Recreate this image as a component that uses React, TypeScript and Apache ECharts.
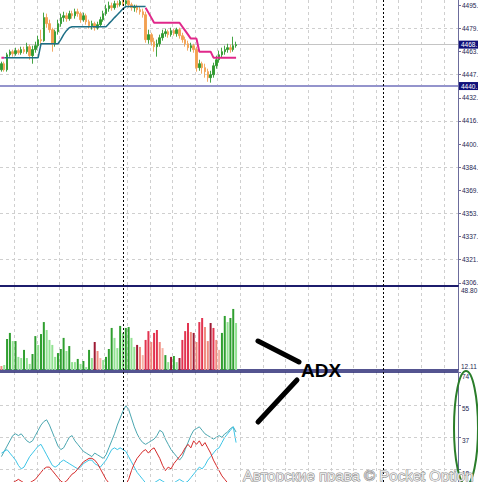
import React, { useEffect, useRef } from 'react';
import * as echarts from 'echarts';

// ---------- time slots (bar positions across the whole window) ----------
const SLOT_COUNT = 162;
const slots: string[] = Array.from({ length: SLOT_COUNT }, (_, i) => String(i));
const separatorSlots = ['43', '135'];

// ---------- price pane ----------
const priceTicks = [4306.0, 4321.75, 4337.5, 4353.25, 4369.0, 4384.75, 4400.5, 4416.25, 4432.0, 4447.75, 4463.5, 4479.25, 4495.0];
const priceGridLevels = [4321.75, 4353.25, 4384.75, 4416.25, 4447.75, 4479.25];
const horizontalLevel = 4440;
const lastPrice = 4468.2;

const opens = [
  4451.1, 4455.2, 4451.1, 4461.3, 4463.4, 4462.0, 4464.1, 4462.7, 4464.8, 4463.4,
  4466.8, 4460.7, 4464.8, 4467.5, 4471.6, 4470.9, 4486.6, 4482.5, 4478.4, 4468.8,
  4477.0, 4482.5, 4486.6, 4487.9, 4485.9, 4489.3, 4487.9, 4490.6, 4489.3, 4485.2,
  4487.9, 4483.8, 4481.1, 4482.5, 4479.7, 4481.8, 4485.2, 4489.3, 4492.7, 4494.7,
  4493.4, 4496.1, 4495.4, 4497.5, 4496.1, 4498.1, 4495.4, 4493.4, 4494.1, 4492.0,
  4490.6, 4488.6, 4471.6, 4475.0, 4470.2, 4466.8, 4468.8, 4472.9, 4475.7, 4477.0,
  4475.0, 4477.7, 4475.7, 4478.4, 4474.3, 4471.6, 4468.8, 4466.1, 4467.5, 4464.8,
  4452.5, 4455.2, 4452.5, 4449.8, 4445.7, 4447.7, 4453.8, 4457.9, 4461.3, 4463.4,
  4464.8, 4466.1, 4464.8, 4467.5,
];
const closes = [
  4455.2, 4451.1, 4461.3, 4463.4, 4462.0, 4464.1, 4462.7, 4464.8, 4463.4, 4466.8,
  4460.7, 4464.8, 4467.5, 4471.6, 4470.9, 4486.6, 4482.5, 4478.4, 4468.8, 4477.0,
  4482.5, 4486.6, 4487.9, 4485.9, 4489.3, 4487.9, 4490.6, 4489.3, 4485.2, 4487.9,
  4483.8, 4481.1, 4482.5, 4479.7, 4481.8, 4485.2, 4489.3, 4492.7, 4494.7, 4493.4,
  4496.1, 4495.4, 4497.5, 4496.1, 4498.1, 4495.4, 4493.4, 4494.1, 4492.0, 4490.6,
  4488.6, 4471.6, 4475.0, 4470.2, 4466.8, 4468.8, 4472.9, 4475.7, 4477.0, 4475.0,
  4477.7, 4475.7, 4478.4, 4474.3, 4471.6, 4468.8, 4466.1, 4467.5, 4464.8, 4452.5,
  4455.2, 4452.5, 4449.8, 4445.7, 4447.7, 4453.8, 4457.9, 4461.3, 4463.4, 4464.8,
  4466.1, 4464.8, 4467.5, 4468.2,
];
const lows = [
  4449.8, 4449.8, 4449.8, 4460.0, 4460.0, 4460.7, 4461.3, 4461.3, 4462.0, 4462.0,
  4457.9, 4455.2, 4462.7, 4466.1, 4468.2, 4470.2, 4479.7, 4476.3, 4463.4, 4466.8,
  4475.0, 4480.4, 4483.8, 4483.8, 4484.5, 4485.9, 4485.9, 4487.2, 4483.1, 4483.8,
  4481.8, 4479.1, 4478.4, 4477.7, 4478.4, 4480.4, 4483.8, 4487.9, 4490.6, 4491.3,
  4492.0, 4493.4, 4494.1, 4494.7, 4494.7, 4493.4, 4491.3, 4490.6, 4490.0, 4488.6,
  4486.6, 4469.5, 4468.8, 4467.5, 4463.4, 4460.0, 4466.8, 4470.9, 4473.6, 4472.9,
  4473.6, 4474.3, 4473.6, 4472.3, 4469.5, 4466.8, 4464.1, 4463.4, 4462.7, 4449.8,
  4450.4, 4448.4, 4445.7, 4442.9, 4442.3, 4445.7, 4451.8, 4455.9, 4459.3, 4461.3,
  4462.7, 4462.7, 4463.4, 4466.1,
];
const highs = [
  4456.6, 4456.6, 4462.7, 4464.8, 4464.8, 4466.1, 4465.4, 4466.8, 4466.8, 4469.5,
  4468.2, 4467.5, 4470.2, 4474.3, 4478.4, 4490.0, 4489.3, 4485.2, 4479.7, 4478.4,
  4485.2, 4489.3, 4490.6, 4490.0, 4491.3, 4491.3, 4492.7, 4492.7, 4490.6, 4490.0,
  4489.3, 4485.2, 4484.5, 4483.8, 4483.8, 4487.2, 4491.3, 4495.4, 4497.5, 4496.8,
  4498.1, 4498.1, 4498.8, 4498.8, 4499.5, 4499.5, 4496.8, 4495.4, 4495.4, 4494.1,
  4492.7, 4490.6, 4478.4, 4476.3, 4472.9, 4471.6, 4475.0, 4478.4, 4479.1, 4478.4,
  4479.7, 4479.1, 4479.7, 4479.7, 4476.3, 4473.6, 4470.9, 4469.5, 4468.8, 4466.8,
  4457.9, 4456.6, 4455.2, 4451.8, 4450.4, 4455.9, 4460.7, 4464.1, 4466.1, 4467.5,
  4468.8, 4468.2, 4473.6, 4470.2,
];

// trailing stop line: support (teal) and resistance (magenta)
const supportLine = [
  null, 4459.3, 4459.3, 4459.3, 4459.3, 4459.3, 4459.3, 4459.3, 4459.3, 4459.3,
  4459.3, 4459.3, 4459.3, 4459.3, 4468.8, 4468.8, 4468.8, 4468.8, 4468.8, 4468.8,
  4468.8, 4471.6, 4475.0, 4477.7, 4479.7, 4480.4, 4480.4, 4480.4, 4480.4, 4480.4,
  4480.4, 4480.4, 4480.4, 4480.4, 4480.4, 4480.4, 4480.4, 4480.4, 4482.5, 4484.5,
  4486.6, 4488.6, 4490.6, 4492.7, 4494.1, 4494.1, 4494.1, 4494.1, 4494.1, 4494.1,
  4494.1, 4494.1, null, null, null, null, null, null, null, null,
  null, null, null, null, null, null, null, null, null, null,
  null, null, null, null, null, null, null, null, null, null,
  null, null, null, null,
];
const resistanceLine = [
  4459.3, 4459.3, null, null, null, null, null, null, null, null,
  null, null, null, null, null, null, null, null, null, null,
  null, null, null, null, null, null, null, null, null, null,
  null, null, null, null, null, null, null, null, null, null,
  null, null, null, null, null, null, null, null, null, null,
  null, 4493.4, 4490.0, 4486.6, 4483.1, 4483.1, 4483.1, 4483.1, 4483.1, 4483.1,
  4483.1, 4483.1, 4483.1, 4483.1, 4480.4, 4477.7, 4475.0, 4472.3, 4472.3, 4472.3,
  4463.4, 4463.4, 4463.4, 4463.4, 4463.4, 4459.3, 4459.3, 4459.3, 4459.3, 4459.3,
  4459.3, 4459.3, 4459.3, 4459.3,
];

// ---------- histogram pane ----------
const histMin = 12.11;
const histMax = 48.8;
const histValues = [
  13.9, 14.3, 25.8, 28.5, 24.9, 24.9, 17.9, 17.4, 21.0, 17.4,
  14.8, 19.2, 27.1, 23.2, 28.0, 33.3, 29.8, 25.4, 23.2, 17.9,
  19.6, 21.4, 26.3, 20.5, 22.7, 15.6, 15.6, 17.0, 14.8, 16.1,
  13.4, 21.0, 17.4, 24.5, 20.5, 17.4, 16.5, 17.9, 21.4, 30.7,
  26.3, 21.8, 31.6, 28.5, 30.7, 31.1, 26.3, 22.3, 23.2, 22.3,
  18.7, 25.4, 29.3, 24.5, 28.5, 29.8, 24.5, 21.8, 18.7, 15.6,
  17.9, 18.3, 15.6, 17.4, 25.4, 29.3, 32.9, 28.9, 28.5, 24.5,
  33.3, 35.1, 31.1, 24.9, 32.9, 30.7, 25.4, 21.0, 28.5, 36.0,
  33.3, 35.1, 39.1, 32.9,
];
const histKinds = [
  'S', 'LG', 'G', 'G', 'LG', 'G', 'LG', 'LG', 'G', 'LG',
  'LG', 'G', 'G', 'LG', 'G', 'G', 'LG', 'LG', 'LG', 'LG',
  'G', 'G', 'G', 'LG', 'G', 'LG', 'LG', 'G', 'LG', 'G',
  'LG', 'G', 'LG', 'DR', 'S', 'LS', 'LG', 'G', 'G', 'G',
  'LG', 'LG', 'G', 'LG', 'G', 'G', 'LG', 'LG', 'DR', 'S',
  'LS', 'R', 'R', 'S', 'R', 'R', 'S', 'LS', 'G', 'LG',
  'DR', 'G', 'LG', 'DR', 'R', 'R', 'R', 'S', 'DR', 'S',
  'R', 'R', 'S', 'S', 'DR', 'R', 'S', 'LS', 'G', 'G',
  'LG', 'G', 'G', 'LG',
];
const histColors: Record<string, string> = {
  G: '#2f9f2f', LG: '#92e292', DR: '#9e1a34', R: '#e2334f', S: '#f08a7e', LS: '#f6b2a6',
};

// ---------- ADX pane ----------
const adxTicks = [18.5, 37, 55.5, 74];
const adxGridLevels = [18.5, 37, 55.5];
const adxMain = [
  26, 29, 32, 35, 38, 39, 38, 39, 37, 35,
  34, 35, 38, 41, 44, 46, 47, 44, 40, 36,
  32, 30, 31, 34, 37, 38, 35, 33, 31, 29,
  28, 27, 26, 28, 27, 26, 25, 27, 31, 35,
  39, 44, 48, 52, 55, 53, 48, 43, 39, 36,
  34, 33, 34, 35, 36, 38, 41, 40, 36, 33,
  30, 28, 26, 24, 26, 30, 34, 38, 41, 42,
  43, 41, 39, 38, 37, 36, 37, 38, 37, 39,
  40, 42, 43, 40,
];
const plusDI = [
  28, 29, 30, 28, 26, 24, 21, 19, 20, 23,
  26, 28, 30, 32, 33, 30, 27, 24, 21, 20,
  21, 23, 24, 23, 22, 21, 20, 19, 20, 22,
  23, 24, 24, 22, 21, 20, 22, 24, 27, 30,
  31, 30, 31, 30, 29, 26, 23, 20, 17, 15,
  13, 11, 10, 10, 11, 12, 13, 12, 11, 10,
  10, 11, 12, 13, 12, 11, 12, 14, 16, 18,
  20, 19, 21, 24, 26, 28, 30, 31, 34, 37,
  39, 41, 43, 34,
];
const minusDI = [
  10, 9, 8, 9, 11, 12, 13, 12, 11, 10,
  11, 12, 13, 15, 17, 19, 20, 20, 18, 16,
  14, 12, 11, 12, 14, 16, 17, 19, 21, 23,
  24, 25, 25, 24, 22, 19, 16, 13, 11, 10,
  9, 9, 8, 9, 10, 13, 18, 22, 25, 27,
  29, 30, 28, 30, 31, 28, 25, 21, 18, 20,
  19, 22, 24, 26, 28, 31, 33, 31, 35, 33,
  35, 32, 34, 31, 28, 24, 21, 18, 15, 13,
  11, 10, 9, 9,
];

const FONT = '"Liberation Sans", Arial, sans-serif';
const AXIS_COLOR = '#6c6c9c';
const LABEL_COLOR = '#1e1e50';
const GRID_LINE = { color: '#cfcfcf', type: [3, 3] as number[], width: 1 };
const SEP_LINE = { color: '#000000', type: [2, 2] as number[], width: 1 };
const PANE_LINE = '#1c1c6c';

function separatorMarks() {
  return separatorSlots.map((s) => ({ xAxis: s, lineStyle: SEP_LINE, label: { show: false } }));
}

function xAxisFor(gridIndex: number, lineShow: boolean, position: 'top' | 'bottom', width: number) {
  return {
    type: 'category',
    gridIndex,
    data: slots,
    boundaryGap: true,
    position,
    axisLabel: { show: false },
    axisTick: { show: false },
    axisLine: { show: lineShow, onZero: false, lineStyle: { color: PANE_LINE, width } },
    splitLine: { show: true, interval: (i: number) => i % 8 === 5, lineStyle: GRID_LINE },
  };
}

const priceLabel = (text: string) => ({
  show: true,
  position: 'end',
  distance: 1,
  formatter: text,
  color: '#ffffff',
  backgroundColor: '#10107a',
  fontSize: 6.5,
  fontFamily: FONT,
  padding: [1, 3, 0, 2],
});

const option: any = {
  animation: false,
  backgroundColor: '#ffffff',
  textStyle: { fontFamily: FONT },
  grid: [
    { left: 0, right: 20, top: 0, height: 286, containLabel: false, outerBoundsMode: 'none' },
    { left: 0, right: 20, top: 287, height: 83, containLabel: false, outerBoundsMode: 'none' },
    { left: 0, right: 20, top: 372, height: 110, containLabel: false, outerBoundsMode: 'none' },
  ],
  xAxis: [xAxisFor(0, true, 'bottom', 2), xAxisFor(1, true, 'bottom', 1.5), xAxisFor(2, true, 'top', 1.5)],
  yAxis: [
    {
      type: 'value', gridIndex: 0, position: 'right', min: 4303.8, max: 4498.6,
      axisLine: { show: true, lineStyle: { color: AXIS_COLOR, width: 1 } },
      axisTick: { show: true, length: 3, customValues: priceTicks, lineStyle: { color: AXIS_COLOR } },
      axisLabel: { customValues: priceTicks, formatter: (v: number) => Math.floor(v) + '.', fontSize: 6.5, color: LABEL_COLOR, margin: 4, fontFamily: FONT },
      splitLine: { show: false },
    },
    {
      type: 'value', gridIndex: 1, position: 'right', min: histMin, max: histMax,
      axisLine: { show: true, lineStyle: { color: AXIS_COLOR, width: 1 } },
      axisTick: { show: false },
      axisLabel: { customValues: [histMax], formatter: (v: number) => v.toFixed(2), fontSize: 6.5, color: LABEL_COLOR, margin: 3, verticalAlign: 'top', fontFamily: FONT },
      splitLine: { show: false },
    },
    {
      type: 'value', gridIndex: 1, position: 'right', min: histMin, max: histMax,
      axisLine: { show: false },
      axisTick: { show: false },
      axisLabel: { customValues: [histMin], formatter: (v: number) => v.toFixed(2), fontSize: 6.5, color: LABEL_COLOR, margin: 3, verticalAlign: 'bottom', fontFamily: FONT },
      splitLine: { show: false },
    },
    {
      type: 'value', gridIndex: 2, position: 'right', min: 11.5, max: 74.3,
      axisLine: { show: true, lineStyle: { color: AXIS_COLOR, width: 1 } },
      axisTick: { show: true, length: 3, customValues: adxTicks, lineStyle: { color: AXIS_COLOR } },
      axisLabel: { customValues: adxTicks, formatter: (v: number) => String(Math.floor(v)), fontSize: 6.5, color: LABEL_COLOR, margin: 4, verticalAlign: 'top', fontFamily: FONT },
      splitLine: { show: false },
    },
  ],
  series: [
    {
      type: 'candlestick', name: 'price', xAxisIndex: 0, yAxisIndex: 0, z: 3,
      barWidth: 2,
      data: opens.map((o, i) => [o, closes[i], lows[i], highs[i]]),
      itemStyle: { color: '#2f9a2f', color0: '#f2a050', borderColor: '#2f9a2f', borderColor0: '#f2a050', borderWidth: 0.9 },
      markLine: {
        silent: true, symbol: ['none', 'none'], animation: false, z: 1,
        data: [
          ...priceGridLevels.map((v) => ({ yAxis: v, lineStyle: GRID_LINE, label: { show: false } })),
          { yAxis: lastPrice, lineStyle: { color: '#c4c4c4', width: 1, type: 'solid' }, label: priceLabel('4468.') },
          { yAxis: horizontalLevel, lineStyle: { color: '#9494cc', width: 2, type: 'solid' }, label: priceLabel('4440.') },
        ],
      },
    },
    {
      type: 'line', name: 'support', xAxisIndex: 0, yAxisIndex: 0, z: 4,
      data: supportLine, symbol: 'none', connectNulls: false,
      lineStyle: { color: '#1d6f86', width: 1.5 },
      markLine: { silent: true, symbol: ['none', 'none'], animation: false, data: separatorMarks() },
    },
    {
      type: 'line', name: 'resistance', xAxisIndex: 0, yAxisIndex: 0, z: 4,
      data: resistanceLine, symbol: 'none', connectNulls: false,
      lineStyle: { color: '#e0288a', width: 2 },
    },
    {
      type: 'bar', name: 'hist', xAxisIndex: 1, yAxisIndex: 1, barWidth: 2,
      data: histValues.map((v, i) => ({ value: v, itemStyle: { color: histColors[histKinds[i]] } })),
      markLine: { silent: true, symbol: ['none', 'none'], animation: false, data: separatorMarks() },
    },
    {
      type: 'line', name: 'ADX', xAxisIndex: 2, yAxisIndex: 3, data: adxMain, symbol: 'none',
      lineStyle: { color: '#4aa6b0', width: 1 },
      markLine: {
        silent: true, symbol: ['none', 'none'], animation: false,
        data: [
          ...adxGridLevels.map((v) => ({ yAxis: v, lineStyle: GRID_LINE, label: { show: false } })),
          ...separatorMarks(),
        ],
      },
    },
    {
      type: 'line', name: '+DI', xAxisIndex: 2, yAxisIndex: 3, data: plusDI, symbol: 'none',
      lineStyle: { color: '#3cc4e6', width: 1 },
    },
    {
      type: 'line', name: '-DI', xAxisIndex: 2, yAxisIndex: 3, data: minusDI, symbol: 'none',
      lineStyle: { color: '#d42a2a', width: 1 },
    },
  ],
  graphic: [
    { type: 'line', shape: { x1: 258, y1: 341, x2: 299, y2: 362 }, style: { stroke: '#000', lineWidth: 5, lineCap: 'round' }, z: 100 },
    { type: 'line', shape: { x1: 258, y1: 422, x2: 297, y2: 380 }, style: { stroke: '#000', lineWidth: 5, lineCap: 'round' }, z: 100 },
    { type: 'text', x: 301, y: 370, z: 100, style: { text: 'ADX', font: 'bold 19px "Liberation Sans", Arial, sans-serif', fill: '#000', verticalAlign: 'middle' } },
    { type: 'ellipse', z: 100, shape: { cx: 466, cy: 428, rx: 12, ry: 57 }, style: { fill: 'none', stroke: '#2a7d2a', lineWidth: 2 } },
    { type: 'text', x: 243, y: 475, z: 100, style: { text: 'Авторские права © Pocket Option', font: '15px "Liberation Sans", Arial, sans-serif', fill: 'rgba(246,246,246,0.9)', stroke: '#858585', lineWidth: 1, verticalAlign: 'middle' } },
  ],
};

export default function App() {
  const ref = useRef<HTMLDivElement>(null);
  useEffect(() => {
    if (!ref.current) return;
    const chart = echarts.init(ref.current, null, { renderer: 'svg' });
    chart.setOption(option);
    return () => chart.dispose();
  }, []);
  return (
    <div
      ref={ref}
      style={{ position: 'fixed', left: 0, top: 0, width: 478, height: 482, background: '#fff' }}
    />
  );
}
